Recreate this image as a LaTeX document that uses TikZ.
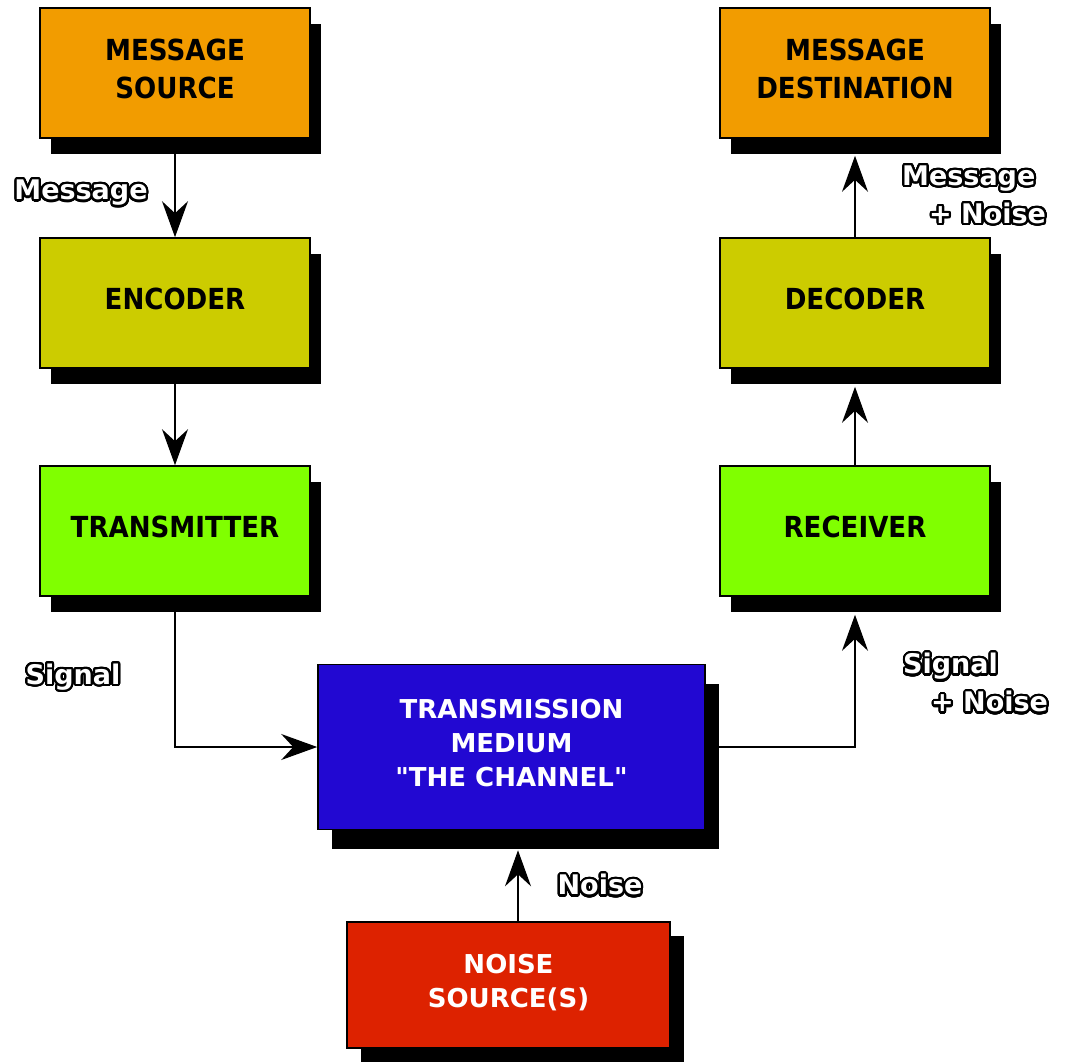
\documentclass[tikz,border=0pt]{standalone}
\usepackage{fontspec}
\setmainfont{DejaVu Sans}
\newfontfamily\boxfont{DejaVu Sans}[FakeStretch=0.9]
\newfontfamily\plainfont{DejaVu Sans}
\usepackage[copies]{contour}
\usetikzlibrary{shadows,arrows.meta,calc}
\definecolor{cOrange}{RGB}{242,156,0}
\definecolor{cOlive}{RGB}{204,204,0}
\definecolor{cGreen}{RGB}{128,255,0}
\definecolor{cBlue}{RGB}{34,8,210}
\definecolor{cRed}{RGB}{221,34,0}
\contourlength{2.2pt}
\contournumber{32}
\newcommand{\olab}[1]{\contour{black}{\textcolor{white}{#1}}}
\begin{document}
\begin{tikzpicture}[x=1pt,y=-1pt,
  basebox/.style={draw=black, line width=1.6pt, align=center, inner sep=0pt, text depth=9pt},
  shad/.style 2 args={drop shadow={shadow xshift=#1, shadow yshift=#2, fill=black, opacity=1}},
  box/.style={basebox, minimum width=270pt, minimum height=130pt,
    font=\boxfont\fontsize{29}{38}\selectfont\bfseries, shad={11pt}{-16pt}},
  bigbox/.style={basebox, text=white, font=\plainfont\fontsize{26}{34}\selectfont\bfseries},
  lbl/.style={font=\fontsize{27}{38}\selectfont\bfseries, inner sep=0pt, align=left},
  arr/.style={line width=1.6pt, -{Stealth[length=36pt,width=26pt,inset=12pt]}}
]
\useasboundingbox (0,0) rectangle (1068,1062);
\fill[white] (0,0) rectangle (1068,1062);

\node[box, fill=cOrange] (src) at (175,73) {MESSAGE\\SOURCE};
\node[box, fill=cOlive] (enc) at (175,303) {ENCODER};
\node[box, fill=cGreen] (tx) at (175,531) {TRANSMITTER};
\node[box, fill=cOrange] (dst) at (855,73) {MESSAGE\\DESTINATION};
\node[box, fill=cOlive] (dec) at (855,303) {DECODER};
\node[box, fill=cGreen] (rx) at (855,531) {RECEIVER};
\node[bigbox, fill=cBlue, minimum width=387pt, minimum height=165pt, shad={14pt}{-19pt}]
  (ch) at (511.5,747) {TRANSMISSION\\MEDIUM\\"THE CHANNEL"};
\node[bigbox, fill=cRed, minimum width=323pt, minimum height=126pt, shad={14pt}{-14pt}]
  (ns) at (508.5,985) {NOISE\\SOURCE(S)};

\draw[arr] (src) -- (enc);
\draw[arr] (enc) -- (tx);
\draw[arr] (tx.south) |- (ch.west);
\draw[arr] (ch.east) -| ($(rx.south)+(0,18)$);
\draw[arr] (rx.north) -- ($(dec.south)+(0,18)$);
\draw[arr] (dec.north) -- ($(dst.south)+(0,17)$);
\draw[arr] ($(ns.north)+(9.5,0)$) -- ($(ch.south)+(6.5,20)$);

\node[lbl] (lmsg) at (81,194) {\olab{Message}};
\node[lbl, anchor=west] (lmn) at (902,196) {\olab{Message}\\\hspace*{27pt}\olab{+ Noise}};
\node[lbl] (lsig) at (73,678) {\olab{Signal}};
\node[lbl, anchor=west] (lsn) at (903,684) {\olab{Signal}\\\hspace*{28pt}\olab{+ Noise}};
\node[lbl] (lnoise) at (600,886) {\olab{Noise}};
\end{tikzpicture}
\end{document}
